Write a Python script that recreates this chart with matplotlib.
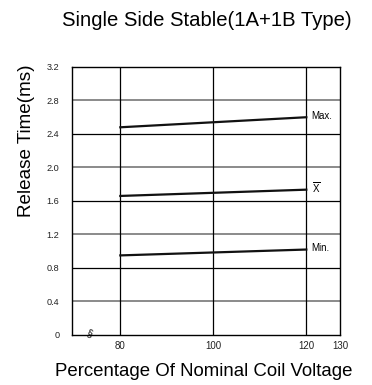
import matplotlib
matplotlib.use("Agg")
import matplotlib.pyplot as plt
import numpy as np

plt.rcParams['font.family'] = ['Liberation Sans', 'DejaVu Sans']
plt.rcParams['mathtext.fontset'] = 'custom'
plt.rcParams['mathtext.rm'] = 'Liberation Sans'

# data
voltage = [80, 120]
max_vals = [2.48, 2.60]
mean_vals = [1.66, 1.735]
min_vals = [0.95, 1.02]
curve_labels = ['Max.', r'$\overline{\mathrm{X}}$', 'Min.']
x_ticks = [80, 100, 120, 130]
y_ticks = [0, 0.4, 0.8, 1.2, 1.6, 2.0, 2.4, 2.8, 3.2]
y_tick_labels = ['0', '0.4', '0.8', '1.2', '1.6', '2.0', '2.4', '2.8', '3.2']

# broken x axis: 80..120 linear, 120..130 compressed
brk_x = [69.6, 120, 130]
brk_p = [0, 234.3, 268]


def fwd(x):
    return np.interp(x, brk_x, brk_p)


def inv(p):
    return np.interp(p, brk_p, brk_x)


fig = plt.figure(figsize=(3.72, 3.85), dpi=100)
ax = fig.add_axes([0.1935, 0.13, 0.7205, 0.696])
ax.set_xscale('function', functions=(fwd, inv))
ax.set_xlim(69.6, 130)
ax.set_ylim(0, 3.2)

# grid
for i, y in enumerate(y_ticks[1:-1]):
    if i % 2 == 0:
        ax.axhline(y, color='#8a8a8a', lw=1.4, zorder=1)
    else:
        ax.axhline(y, color='black', lw=0.9, zorder=1)
for x in x_ticks[:-1]:
    ax.axvline(x, color='black', lw=0.9, zorder=1)

for vals, lab in zip([max_vals, mean_vals, min_vals], curve_labels):
    ax.plot(voltage, vals, color='#111111', lw=1.6, zorder=3)
    ax.text(121.6, vals[-1] + 0.02, lab, fontsize=7, va='center', ha='left')

ax.set_xticks(x_ticks)
ax.set_xticklabels([str(v) for v in x_ticks], fontsize=7, color='#222222')
ax.set_yticks(y_ticks)
ax.set_yticklabels(y_tick_labels, fontsize=6.6, color='#222222')
ax.tick_params(axis='x', length=0, pad=4)
ax.tick_params(axis='y', length=0, pad=9)

for s in ax.spines.values():
    s.set_linewidth(1.0)

# axis break mark
ax.text(73.3, 0.02, '§', fontsize=7, ha='center', va='center', rotation=-20, zorder=4)

fig.text(0.556, 0.948, 'Single Side Stable(1A+1B Type)', fontsize=14.6, ha='center', va='center')
fig.text(0.07, 0.634, 'Release Time(ms)', fontsize=13.6, rotation=90, ha='center', va='center')
fig.text(0.547, 0.034, 'Percentage Of Nominal Coil Voltage', fontsize=13.4, ha='center', va='center')

fig.savefig('out.png', dpi=100)
